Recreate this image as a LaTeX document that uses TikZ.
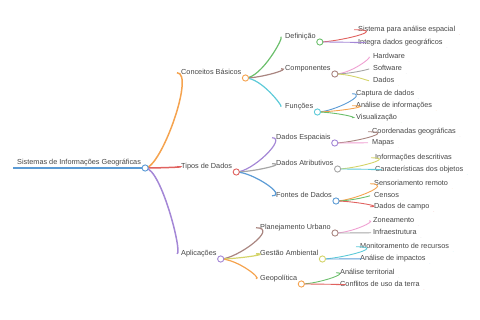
\documentclass[tikz,border=0pt]{standalone}
\usepackage{fontspec}
\setmainfont{Liberation Sans}
\usepackage{tikz}
\usetikzlibrary{calc}
\definecolor{ink}{HTML}{454545}
\definecolor{cblue}{HTML}{5B9BD5}
\definecolor{corange}{HTML}{F5A34F}
\definecolor{cgreen}{HTML}{6CBF6C}
\definecolor{cred}{HTML}{E0625F}
\definecolor{cpurple}{HTML}{A487D6}
\definecolor{cbrown}{HTML}{A98580}
\definecolor{cpink}{HTML}{EFA0D2}
\definecolor{cgray}{HTML}{A6A6A6}
\definecolor{colive}{HTML}{D4D46A}
\definecolor{ccyan}{HTML}{5DCAD8}
\tikzset{
  topic/.style={anchor=south west, inner xsep=4pt, inner ysep=1.6pt, text height=5.4pt, text depth=1.5pt, font=\fontsize{7.3}{8.5}\selectfont, text=ink},
  hub/.style={circle, draw=#1, fill=white, line width=0.9pt, inner sep=0pt, minimum size=6.2pt},
  lvlzero/.style={line width=1.8pt, draw=#1},
  lvlone/.style={line width=1.5pt, draw=#1},
  lvltwo/.style={line width=1.2pt, draw=#1},
  lvlthree/.style={line width=0.9pt, draw=#1}
}

\begin{document}
\begin{tikzpicture}[x=1pt, y=-1pt,
  sweep/.style={to path={.. controls +(16,0) and +(-16,0) .. (\tikztotarget) -- (\tikztotarget.south east)}}
]
  \useasboundingbox (0,0) rectangle (480,320);

  % root
  \node[topic] (root) at (13,168) {Sistemas de Informações Geográficas};

  % first level
  \node[topic] (conc) at (177,78) {Conceitos Básicos};
  \node[topic] (tipos) at (177,172) {Tipos de Dados};
  \node[topic] (apl) at (177,259) {Aplicações};

  % conceitos
  \node[topic] (defin) at (281,42) {Definição};
  \node[topic] (comp) at (281,74) {Componentes};
  \node[topic] (func) at (281,112) {Funções};
  \node[topic] (sisesp) at (354,35) {Sistema para análise espacial};
  \node[topic] (integra) at (354,48) {Integra dados geográficos};
  \node[topic] (hard) at (369,62) {Hardware};
  \node[topic] (soft) at (369,74) {Software};
  \node[topic] (dados) at (369,86) {Dados};
  \node[topic] (captura) at (352,99) {Captura de dados};
  \node[topic] (analinf) at (352,111) {Análise de informações};
  \node[topic] (visual) at (352,123) {Visualização};

  % tipos de dados
  \node[topic] (espac) at (272,143) {Dados Espaciais};
  \node[topic] (atrib) at (272,169) {Dados Atributivos};
  \node[topic] (fontes) at (272,201) {Fontes de Dados};
  \node[topic] (coord) at (368,137) {Coordenadas geográficas};
  \node[topic] (mapas) at (368,148) {Mapas};
  \node[topic] (infdesc) at (371,163) {Informações descritivas};
  \node[topic] (caract) at (371,175) {Características dos objetos};
  \node[topic] (sensor) at (370,189) {Sensoriamento remoto};
  \node[topic] (censos) at (370,201) {Censos};
  \node[topic] (campo) at (370,212) {Dados de campo};

  % aplicacoes
  \node[topic] (planurb) at (256,233) {Planejamento Urbano};
  \node[topic] (gestamb) at (256,259) {Gestão Ambiental};
  \node[topic] (geopol) at (256,284) {Geopolítica};
  \node[topic] (zonea) at (369,226) {Zoneamento};
  \node[topic] (infra) at (369,238) {Infraestrutura};
  \node[topic] (monit) at (356,252) {Monitoramento de recursos};
  \node[topic] (analimp) at (356,264) {Análise de impactos};
  \node[topic] (analter) at (336,278) {Análise territorial};
  \node[topic] (conflit) at (336,290) {Conflitos de uso da terra};

  % underlines and branches
  \draw[lvlzero=cblue] (root.south west) -- (root.south east);
  \draw[lvlone=corange] (root.south east) to[sweep] (conc);
  \draw[lvlone=cred] (root.south east) to[sweep] (tipos);
  \draw[lvlone=cpurple] (root.south east) to[sweep] (apl);

  \draw[lvltwo=cgreen] (conc.south east) to[sweep] (defin);
  \draw[lvltwo=cbrown] (conc.south east) to[sweep] (comp);
  \draw[lvltwo=ccyan] (conc.south east) to[sweep] (func);
  \draw[lvlthree=cred] (defin.south east) to[sweep] (sisesp);
  \draw[lvlthree=cpurple] (defin.south east) to[sweep] (integra);
  \draw[lvlthree=cpink] (comp.south east) to[sweep] (hard);
  \draw[lvlthree=cgray] (comp.south east) to[sweep] (soft);
  \draw[lvlthree=colive] (comp.south east) to[sweep] (dados);
  \draw[lvlthree=cblue] (func.south east) to[sweep] (captura);
  \draw[lvlthree=corange] (func.south east) to[sweep] (analinf);
  \draw[lvlthree=cgreen] (func.south east) to[sweep] (visual);

  \draw[lvltwo=cpurple] (tipos.south east) to[sweep] (espac);
  \draw[lvltwo=cgray] (tipos.south east) to[sweep] (atrib);
  \draw[lvltwo=cblue] (tipos.south east) to[sweep] (fontes);
  \draw[lvlthree=cbrown] (espac.south east) to[sweep] (coord);
  \draw[lvlthree=cpink] (espac.south east) to[sweep] (mapas);
  \draw[lvlthree=colive] (atrib.south east) to[sweep] (infdesc);
  \draw[lvlthree=ccyan] (atrib.south east) to[sweep] (caract);
  \draw[lvlthree=corange] (fontes.south east) to[sweep] (sensor);
  \draw[lvlthree=cgreen] (fontes.south east) to[sweep] (censos);
  \draw[lvlthree=cred] (fontes.south east) to[sweep] (campo);

  \draw[lvltwo=cbrown] (apl.south east) to[sweep] (planurb);
  \draw[lvltwo=colive] (apl.south east) to[sweep] (gestamb);
  \draw[lvltwo=corange] (apl.south east) to[sweep] (geopol);
  \draw[lvlthree=cpink] (planurb.south east) to[sweep] (zonea);
  \draw[lvlthree=cgray] (planurb.south east) to[sweep] (infra);
  \draw[lvlthree=ccyan] (gestamb.south east) to[sweep] (monit);
  \draw[lvlthree=cblue] (gestamb.south east) to[sweep] (analimp);
  \draw[lvlthree=cgreen] (geopol.south east) to[sweep] (analter);
  \draw[lvlthree=cred] (geopol.south east) to[sweep] (conflit);

  % hubs on top
  \node[hub=cblue] (rootdot) at (root.south east) {};
  \node[hub=corange] (concdot) at (conc.south east) {};
  \node[hub=cred] (tiposdot) at (tipos.south east) {};
  \node[hub=cpurple] (apldot) at (apl.south east) {};
  \node[hub=cgreen] (defindot) at (defin.south east) {};
  \node[hub=cbrown] (compdot) at (comp.south east) {};
  \node[hub=ccyan] (funcdot) at (func.south east) {};
  \node[hub=cpurple] (espacdot) at (espac.south east) {};
  \node[hub=cgray] (atribdot) at (atrib.south east) {};
  \node[hub=cblue] (fontesdot) at (fontes.south east) {};
  \node[hub=cbrown] (planurbdot) at (planurb.south east) {};
  \node[hub=colive] (gestambdot) at (gestamb.south east) {};
  \node[hub=corange] (geopoldot) at (geopol.south east) {};
\end{tikzpicture}
\end{document}
